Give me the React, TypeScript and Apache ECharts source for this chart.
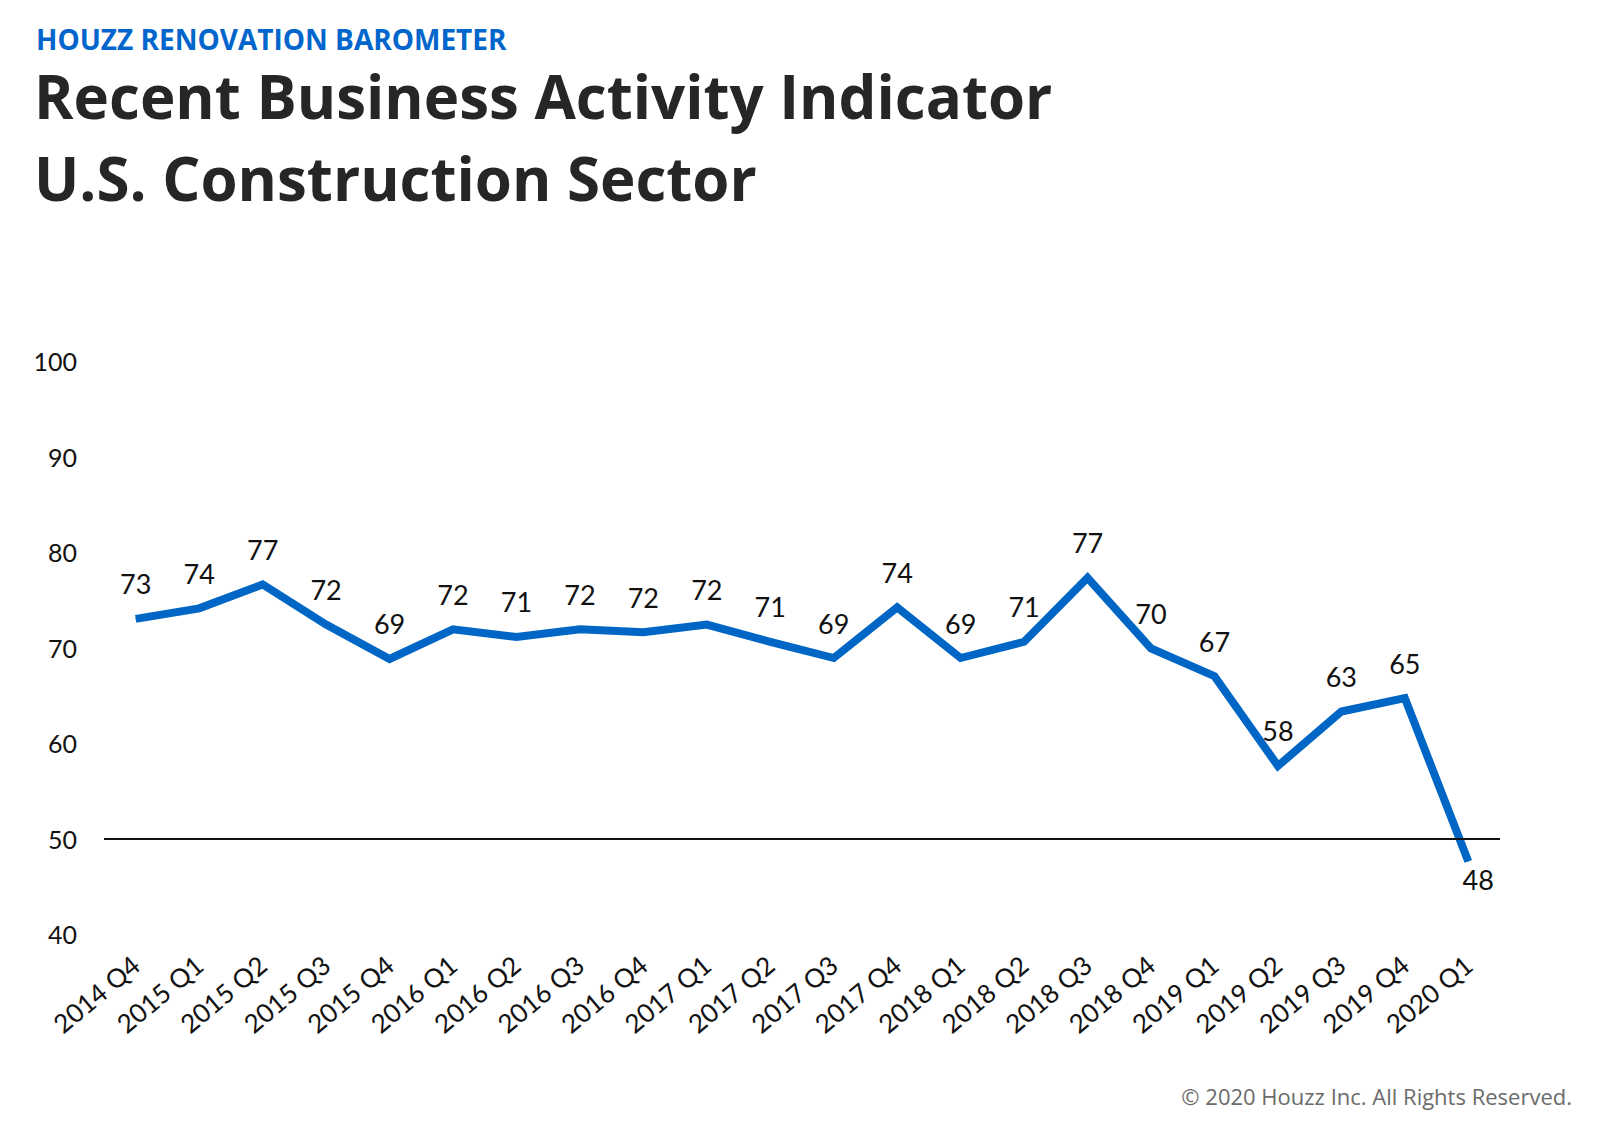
import React, { useEffect, useRef } from "react";
import * as echarts from "echarts";

const categories = [
  "2014 Q4", "2015 Q1", "2015 Q2", "2015 Q3", "2015 Q4",
  "2016 Q1", "2016 Q2", "2016 Q3", "2016 Q4",
  "2017 Q1", "2017 Q2", "2017 Q3", "2017 Q4",
  "2018 Q1", "2018 Q2", "2018 Q3", "2018 Q4",
  "2019 Q1", "2019 Q2", "2019 Q3", "2019 Q4", "2020 Q1",
];
const values = [
  73.0, 74.1, 76.6, 72.4, 68.8,
  71.9, 71.1, 71.9, 71.6,
  72.4, 70.6, 68.9, 74.2,
  68.9, 70.6, 77.3, 69.9,
  67.0, 57.6, 63.3, 64.7, 47.6,
];
const labels = [
  73, 74, 77, 72, 69,
  72, 71, 72, 72,
  72, 71, 69, 74,
  69, 71, 77, 70,
  67, 58, 63, 65, 48,
];
const yMin = 40;
const yMax = 100;
const yStep = 10;
const thresholdValue = 50;

const FONT = "Lato, 'Open Sans', sans-serif";
const WIDE = "'Open Sans', Lato, sans-serif";

export default function App() {
  const ref = useRef<HTMLDivElement>(null);
  useEffect(() => {
    if (!ref.current) return;
    const chart = echarts.init(ref.current, undefined, { renderer: "svg" });
    const lastIdx = values.length - 1;
    chart.setOption({
      animation: false,
      backgroundColor: "#ffffff",
      textStyle: { fontFamily: FONT },
      grid: { left: 104, right: 102, top: 361, bottom: 206, containLabel: false },
      graphic: [
        {
          type: "text",
          left: 36,
          top: 25,
          style: {
            text: "HOUZZ RENOVATION BAROMETER",
            fontFamily: WIDE,
            fontWeight: "bold",
            fontSize: 28,
            fill: "#0066cc",
          },
        },
        {
          type: "text",
          left: 34,
          top: 66,
          style: {
            text: "Recent Business Activity Indicator",
            fontFamily: WIDE,
            fontWeight: "bold",
            fontSize: 60,
            fill: "#262626",
          },
        },
        {
          type: "text",
          left: 34,
          top: 148,
          style: {
            text: "U.S. Construction Sector",
            fontFamily: WIDE,
            fontWeight: "bold",
            fontSize: 60,
            fill: "#262626",
          },
        },
        {
          type: "text",
          right: 30,
          top: 1085,
          style: {
            text: "© 2020 Houzz Inc. All Rights Reserved.",
            fontFamily: WIDE,
            fontSize: 22,
            fill: "#6b6b6b",
          },
        },
      ],
      xAxis: {
        type: "category",
        data: categories,
        boundaryGap: true,
        axisLine: { show: false },
        axisTick: { show: false },
        axisLabel: {
          rotate: 40,
          margin: 27,
          fontSize: 26,
          color: "#111111",
          fontFamily: FONT,
          interval: 0,
        },
        splitLine: { show: false },
      },
      yAxis: {
        type: "value",
        min: yMin,
        max: yMax,
        interval: yStep,
        axisLine: { show: false },
        axisTick: { show: false },
        splitLine: { show: false },
        axisLabel: {
          margin: 27,
          fontSize: 25,
          color: "#111111",
          fontFamily: FONT,
        },
      },
      series: [
        {
          type: "line",
          data: values.map((v, i) =>
            i === lastIdx
              ? { value: v, label: { position: "bottom", distance: 4, offset: [10, 0] } }
              : { value: v }
          ),
          symbol: "circle",
          symbolSize: 1,
          showSymbol: true,
          itemStyle: { color: "#0066c6" },
          lineStyle: { color: "#0066c6", width: 8, join: "miter" },
          label: {
            show: true,
            position: "top",
            distance: 21,
            fontSize: 27,
            color: "#111111",
            fontFamily: FONT,
            formatter: (p: any) => String(labels[p.dataIndex]),
          },
          markLine: {
            silent: true,
            symbol: "none",
            label: { show: false },
            lineStyle: { color: "#111111", width: 2, type: "solid" },
            data: [{ yAxis: thresholdValue }],
          },
          z: 3,
        },
      ],
    });
    return () => chart.dispose();
  }, []);
  return (
    <div
      ref={ref}
      style={{ position: "fixed", left: 0, top: 0, width: 1602, height: 1140, background: "#fff" }}
    />
  );
}
